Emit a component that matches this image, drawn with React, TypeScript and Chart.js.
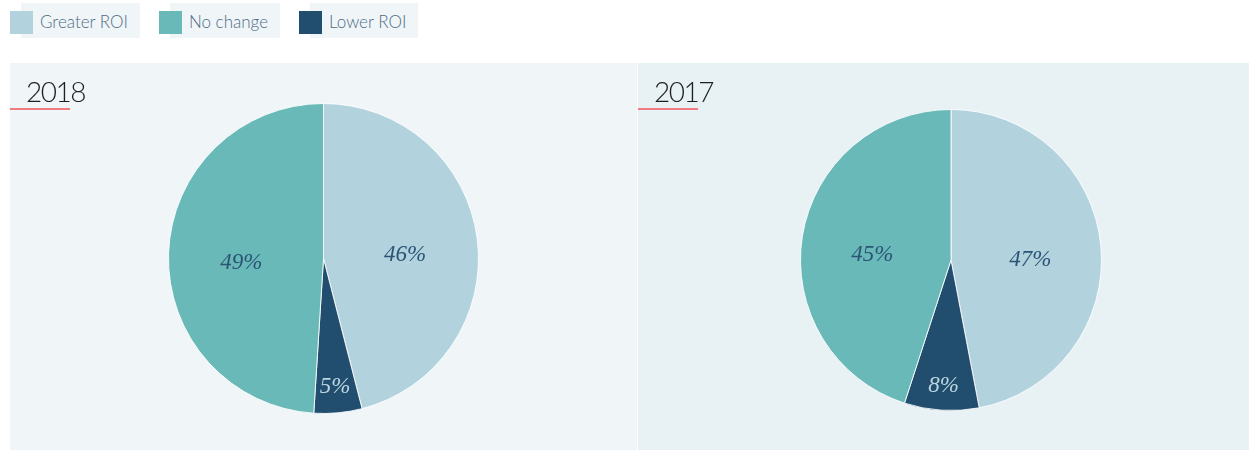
import React, { useEffect, useRef } from "react";
import { Chart, registerables } from "chart.js";

Chart.register(...registerables);

const categories = ["Greater ROI", "Lower ROI", "No change"];
const legendOrder = ["Greater ROI", "No change", "Lower ROI"];
const colors: Record<string, string> = {
  "Greater ROI": "#b2d3dd",
  "No change": "#69b9b8",
  "Lower ROI": "#214d6e",
};
const values2018 = [46, 5, 49];
const values2017 = [47, 8, 45];

const labelPlugin = {
  id: "sliceLabels",
  afterDatasetsDraw(chart: any) {
    const ctx = chart.ctx;
    const meta = chart.getDatasetMeta(0);
    const data = chart.data.datasets[0].data as number[];
    const total = data.reduce((a, b) => a + b, 0);
    ctx.save();
    ctx.font = "italic 23px 'Liberation Serif', 'DejaVu Serif', serif";
    ctx.textAlign = "center";
    ctx.textBaseline = "middle";
    meta.data.forEach((arc: any, i: number) => {
      const p = arc.getProps(["x", "y", "startAngle", "endAngle", "outerRadius"], true);
      const mid = (p.startAngle + p.endAngle) / 2;
      const share = data[i] / total;
      const frac = share < 0.15 ? 0.79 : 0.53;
      const x = p.x + Math.cos(mid) * p.outerRadius * frac;
      const y = p.y + Math.sin(mid) * p.outerRadius * frac + 7;
      ctx.fillStyle = categories[i] === "Lower ROI" ? "#bcd7e0" : "#2b5476";
      ctx.fillText(`${data[i]}%`, x, y);
    });
    ctx.restore();
  },
};

function PieCanvas({ values, width, height, padding }: { values: number[]; width: number; height: number; padding: any }) {
  const ref = useRef<HTMLCanvasElement>(null);
  useEffect(() => {
    if (!ref.current) return;
    const chart = new Chart(ref.current, {
      type: "pie",
      data: {
        labels: categories,
        datasets: [
          {
            data: values,
            backgroundColor: categories.map((c) => colors[c]),
            borderColor: "rgba(255,255,255,0.85)",
            borderWidth: 1,
          },
        ],
      },
      options: {
        responsive: false,
        animation: false,
        layout: { padding },
        plugins: { legend: { display: false }, tooltip: { enabled: false } },
      },
      plugins: [labelPlugin],
    });
    return () => chart.destroy();
  }, []);
  return <canvas ref={ref} width={width} height={height} style={{ position: "absolute", left: 0, top: 0 }} />;
}

function Panel({ title, values, left, width, bg, padding }: any) {
  return (
    <div style={{ position: "absolute", left, top: 63, width, height: 387, background: bg }}>
      <PieCanvas values={values} width={width} height={387} padding={padding} />
      <div
        style={{
          position: "absolute",
          left: 16,
          top: 8,
          fontFamily: "Lato, sans-serif",
          fontWeight: 300,
          fontSize: 28,
          letterSpacing: -1.5,
          color: "#1f1f1f",
          lineHeight: "40px",
        }}
      >
        {title}
      </div>
      <div style={{ position: "absolute", left: 0, top: 45, width: 60, height: 1.5, background: "#ef7b82" }} />
    </div>
  );
}

export default function App() {
  useEffect(() => {
    document.body.style.margin = "0";
  }, []);
  return (
    <div style={{ position: "relative", width: 1249, height: 450, background: "#ffffff", overflow: "hidden" }}>
      <div style={{ position: "absolute", left: 10, top: 3, display: "flex" }}>
        {legendOrder.map((name) => (
          <div key={name} style={{ position: "relative", display: "flex", height: 35, marginRight: 19 }}>
            <div style={{ position: "absolute", left: 11, top: 0, right: 0, bottom: 0, background: "#f0f5f8" }} />
            <div style={{ position: "relative", width: 23, height: 23, marginTop: 8, background: colors[name] }} />
            <span
              style={{
                position: "relative",
                marginLeft: 7,
                paddingRight: 12,
                fontFamily: "Lato, sans-serif",
                fontWeight: 300,
                fontSize: 17,
                lineHeight: "38px",
                color: "#4f6d86",
              }}
            >
              {name}
            </span>
          </div>
        ))}
      </div>
      <Panel title="2018" values={values2018} left={10} width={627} bg="#f0f5f8" padding={{ top: 40, bottom: 36, left: 0, right: 0 }} />
      <Panel title="2017" values={values2017} left={638} width={611} bg="#e8f1f4" padding={{ top: 46, bottom: 39, left: 15, right: 0 }} />
    </div>
  );
}
